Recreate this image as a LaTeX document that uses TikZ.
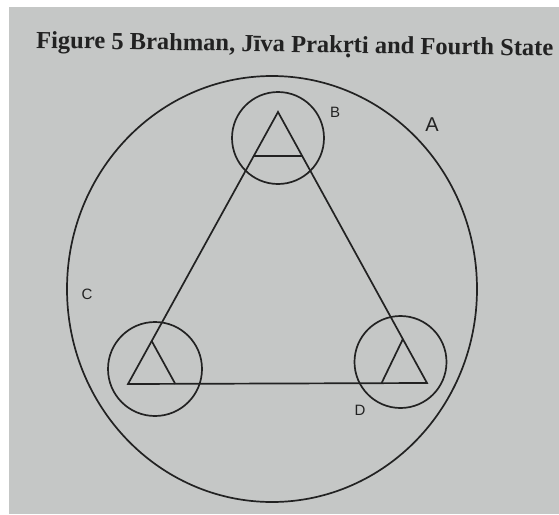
\documentclass[tikz,border=0pt]{standalone}
\usepackage{fontspec}
\setmainfont{Liberation Serif}
\newfontfamily\lblfont{Liberation Sans}
\usetikzlibrary{calc,shapes.geometric}
\definecolor{paper}{RGB}{197,199,198}
\definecolor{ink}{RGB}{34,34,34}
\newcommand{\rdot}{{\ooalign{r\cr\hidewidth\raisebox{-0.2em}{.}\hidewidth\cr}}}
\begin{document}
\begin{tikzpicture}[x=1pt,y=-1pt,
  line/.style={draw=ink,line width=1.7pt},
  ring/.style={circle,draw=ink,line width=1.7pt,minimum size=92pt,inner sep=0pt},
  lbl/.style={font=\lblfont\fontsize{15}{15}\selectfont,text=ink,inner sep=0pt},
  biglbl/.style={font=\lblfont\fontsize{20}{20}\selectfont,text=ink,inner sep=0pt}]
\useasboundingbox (0,0) rectangle (559,514);
\fill[white] (0,0) rectangle (559,514);
\fill[paper] (9,7) rectangle (559,514);
\node[anchor=base west,inner sep=0pt,text=ink,rotate=-0.9] (title) at (36,48)
  {\resizebox{517pt}{!}{\bfseries Figure 5 Brahman, Jīva Prak\rdot ti and Fourth State}};
% outer circle
\node[ellipse,draw=ink,line width=1.7pt,minimum width=410pt,minimum height=426pt,inner sep=0pt] (outer) at (272,289) {};
% small circles
\node[ring] (cb) at (278,138) {};
\node[ring,minimum size=94pt] (cc) at (155,369) {};
\node[ring] (cd) at (400.5,362) {};
% triangle
\coordinate (T) at (278,112);
\coordinate (L) at (128,384);
\coordinate (R) at (427,383);
\draw[line,line join=miter] (T) -- (L) -- (R) -- cycle;
% inner triangles
\draw[line] ($(T)!0.162!(L)$) -- ($(T)!0.162!(R)$);
\draw[line] ($(L)!0.158!(R)$) -- ($(L)!0.158!(T)$);
\draw[line] ($(R)!0.152!(L)$) -- ($(R)!0.162!(T)$);
% labels
\node[lbl] (lb) at (335,112) {B};
\node[biglbl] (la) at (432,125) {A};
\node[lbl] (lc) at (87,294) {C};
\node[lbl] (ld) at (360,410) {D};
\end{tikzpicture}
\end{document}
